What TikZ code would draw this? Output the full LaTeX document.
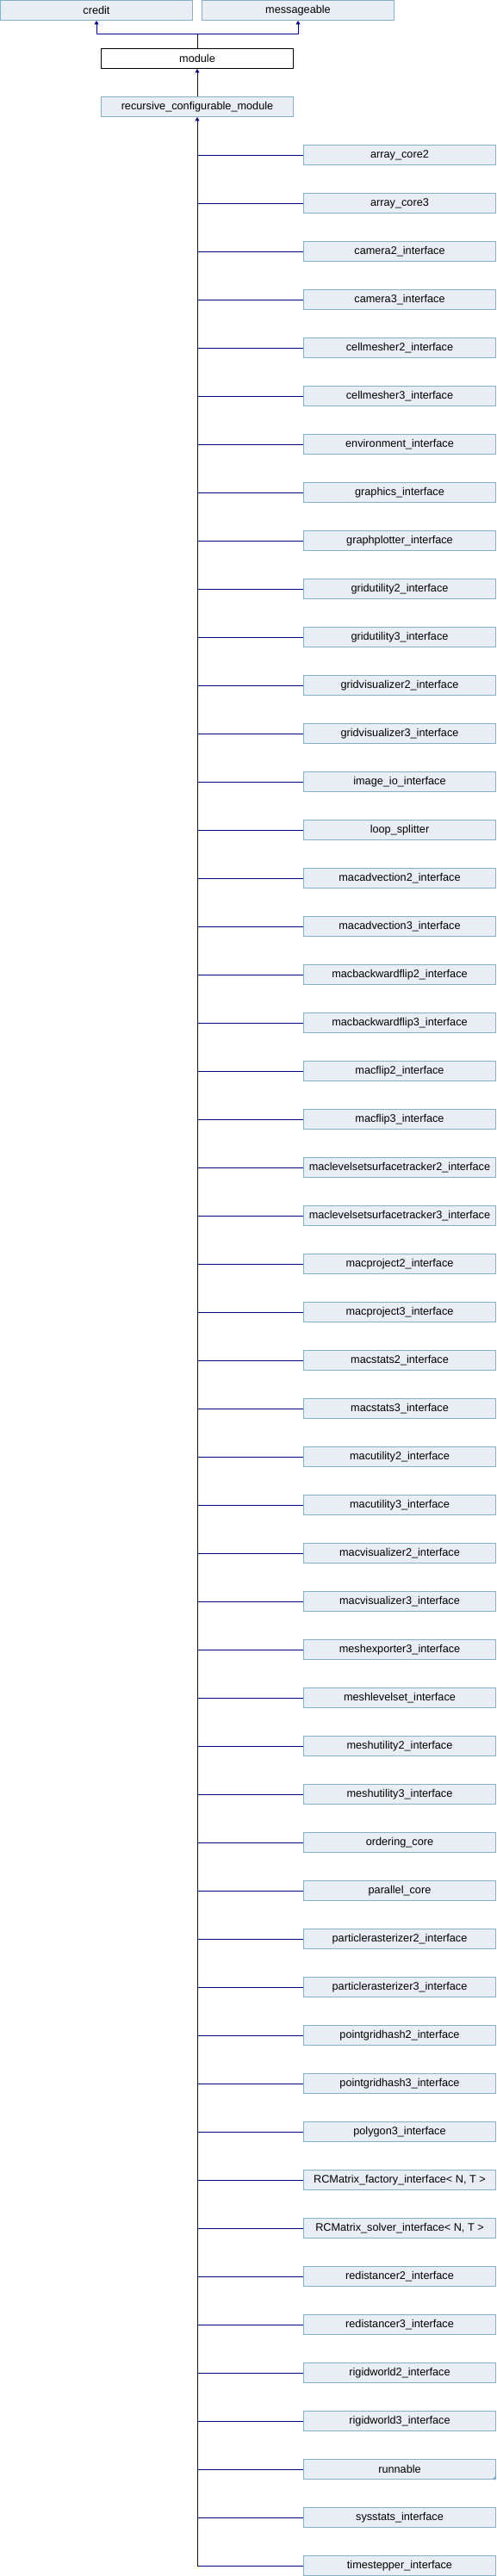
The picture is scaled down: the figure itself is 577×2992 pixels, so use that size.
\documentclass[tikz,border=0pt]{standalone}
\usepackage{fontspec}
\setmainfont{Liberation Sans}
\definecolor{boxfill}{RGB}{232,238,244}
\definecolor{boxedge}{RGB}{132,176,199}
\definecolor{linkblue}{RGB}{0,0,140}
\usetikzlibrary{arrows.meta,positioning}
\tikzset{
	classbox/.style={
		draw=boxedge, rectangle, fill=boxfill, line width=1pt,
		minimum width=223pt, minimum height=23pt,
		inner sep=0pt, text=black,
		font=\fontsize{12.7}{14}\selectfont
	},
	thisbox/.style={classbox, draw=black, fill=white},
	link/.style={draw=linkblue, line width=1pt},
	inherit/.style={link, -{Triangle[width=5pt,length=4.5pt]}}
}

\begin{document}
\begin{tikzpicture}[x=1pt,y=1pt]
	\useasboundingbox (0,0) rectangle (577,-2992);
	\node[classbox] (credit) at (112,-12) {credit};
	\node[classbox] (msg) at (346,-12) {messageable};
	\node[thisbox] (mod) at (229,-68) {module};
	\node[classbox] (rcm) at (229,-124) {recursive\_configurable\_module};
	\coordinate[above=16pt of mod.north] (join);
	\draw[link] (mod.north) -- (join);
	\draw[inherit] (join) -| (credit.south);
	\draw[inherit] (join) -| (msg.south);
	\draw[inherit] (rcm.north) -- (mod.south);
	\foreach \name [count=\i] in {
		array\_core2, array\_core3, camera2\_interface, camera3\_interface,
		cellmesher2\_interface, cellmesher3\_interface, environment\_interface,
		graphics\_interface, graphplotter\_interface, gridutility2\_interface,
		gridutility3\_interface, gridvisualizer2\_interface, gridvisualizer3\_interface,
		image\_io\_interface, loop\_splitter, macadvection2\_interface,
		macadvection3\_interface, macbackwardflip2\_interface, macbackwardflip3\_interface,
		macflip2\_interface, macflip3\_interface, maclevelsetsurfacetracker2\_interface,
		maclevelsetsurfacetracker3\_interface, macproject2\_interface, macproject3\_interface,
		macstats2\_interface, macstats3\_interface, macutility2\_interface,
		macutility3\_interface, macvisualizer2\_interface, macvisualizer3\_interface,
		meshexporter3\_interface, meshlevelset\_interface, meshutility2\_interface,
		meshutility3\_interface, ordering\_core, parallel\_core,
		particlerasterizer2\_interface, particlerasterizer3\_interface,
		pointgridhash2\_interface, pointgridhash3\_interface, polygon3\_interface,
		{RCMatrix\_factory\_interface< N, T >}, {RCMatrix\_solver\_interface< N, T >},
		redistancer2\_interface, redistancer3\_interface, rigidworld2\_interface,
		rigidworld3\_interface, runnable, sysstats\_interface, timestepper\_interface}
	{
		\node[classbox] (c\i) at (464,{-180-56*(\i-1)}) {\name};
		\draw[link] (c\i.west -| rcm.south) -- (c\i.west);
	}
	\draw[inherit] (c51.west -| rcm.south) -- (rcm.south);
	% runnable has more below
	\fill[boxedge] (c49.south east) -- ++(-5,0) -- ++(5,5) -- cycle;
\end{tikzpicture}
\end{document}
